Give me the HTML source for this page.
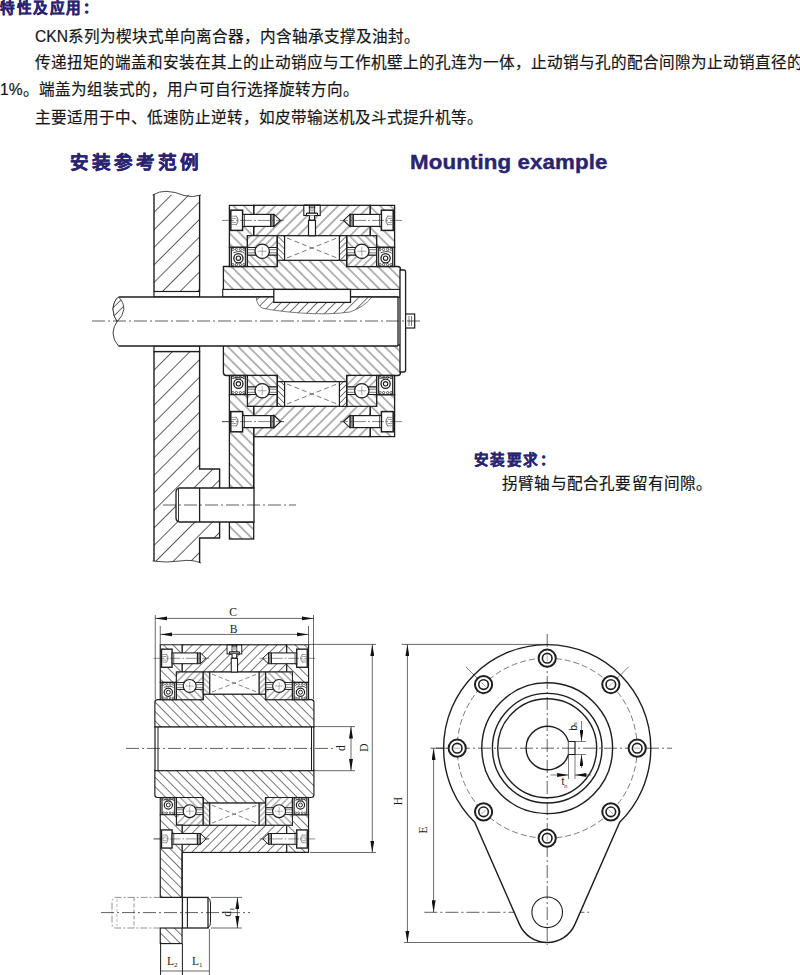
<!DOCTYPE html>
<html lang="zh-CN"><head><meta charset="utf-8"><style>
html,body{margin:0;padding:0;background:#fff;}
body{width:800px;height:975px;position:relative;overflow:hidden;font-family:"Liberation Sans",sans-serif;}
.t{position:absolute;white-space:nowrap;font-size:15.6px;color:#161616;line-height:1;-webkit-text-stroke:0.2px #161616;}
.h{position:absolute;white-space:nowrap;font-weight:bold;color:#2a2470;line-height:1;-webkit-text-stroke:0.5px #2a2470;}
</style></head><body>
<svg width="800" height="975" viewBox="0 0 800 975" style="position:absolute;left:0;top:0"><defs><pattern id="hA" patternUnits="userSpaceOnUse" width="7.4" height="7.4" patternTransform="rotate(45)"><rect width="7.4" height="7.4" fill="#fff"/><line x1="3.7" y1="0" x2="3.7" y2="7.4" stroke="#383838" stroke-width="0.75"/></pattern><pattern id="hB" patternUnits="userSpaceOnUse" width="7.4" height="7.4" patternTransform="rotate(-45)"><rect width="7.4" height="7.4" fill="#fff"/><line x1="3.7" y1="0" x2="3.7" y2="7.4" stroke="#383838" stroke-width="0.75"/></pattern><pattern id="hA2" patternUnits="userSpaceOnUse" width="5.6" height="5.6" patternTransform="rotate(45)"><rect width="5.6" height="5.6" fill="#fff"/><line x1="2.8" y1="0" x2="2.8" y2="5.6" stroke="#383838" stroke-width="0.7"/></pattern><pattern id="hB2" patternUnits="userSpaceOnUse" width="5.6" height="5.6" patternTransform="rotate(-45)"><rect width="5.6" height="5.6" fill="#fff"/><line x1="2.8" y1="0" x2="2.8" y2="5.6" stroke="#383838" stroke-width="0.7"/></pattern><pattern id="hA3" patternUnits="userSpaceOnUse" width="4.2" height="4.2" patternTransform="rotate(45)"><rect width="4.2" height="4.2" fill="#fff"/><line x1="2.1" y1="0" x2="2.1" y2="4.2" stroke="#383838" stroke-width="0.65"/></pattern><pattern id="hB3" patternUnits="userSpaceOnUse" width="4.2" height="4.2" patternTransform="rotate(-45)"><rect width="4.2" height="4.2" fill="#fff"/><line x1="2.1" y1="0" x2="2.1" y2="4.2" stroke="#383838" stroke-width="0.65"/></pattern><pattern id="hW" patternUnits="userSpaceOnUse" width="12.4" height="12.4" patternTransform="rotate(45) translate(4.8,0)"><rect width="12.4" height="12.4" fill="#fff"/><line x1="6.2" y1="0" x2="6.2" y2="12.4" stroke="#383838" stroke-width="0.8"/></pattern><pattern id="hK" patternUnits="userSpaceOnUse" width="6.4" height="6.4" patternTransform="rotate(45)"><rect width="6.4" height="6.4" fill="#fff"/><line x1="3.2" y1="0" x2="3.2" y2="6.4" stroke="#383838" stroke-width="0.7"/></pattern><marker id="ar" viewBox="0 0 12 4" refX="12" refY="2" markerWidth="12" markerHeight="4.2" markerUnits="userSpaceOnUse" orient="auto"><path d="M0,0 L12,2 L0,4 z" fill="#111"/></marker><marker id="ars" viewBox="0 0 12 4" refX="12" refY="2" markerWidth="12" markerHeight="3.8" markerUnits="userSpaceOnUse" orient="auto"><path d="M0,0 L12,2 L0,4 z" fill="#111"/></marker></defs><path d="M154,291.5 L154,194.4 L199.6,195.3 L199.6,291.5 Z" fill="url(#hW)" stroke="#1e1e1e" stroke-width="0" /><path d="M154,291.5 L154,194.4 M199.6,195.3 L199.6,291.5" fill="none" stroke="#1e1e1e" stroke-width="1.4" /><path d="M152.5,195 Q160,191 166,191.3 Q175,191.5 184,195.5 Q192,198 201,195" fill="none" stroke="#1e1e1e" stroke-width="0.8" /><path d="M154,351.5 L199.6,351.5 L199.6,469 L219.6,469 L219.6,538 L199.6,538 L199.6,563 Q192,560 180,561 Q166,563 154,561 Z" fill="url(#hW)" stroke="#1e1e1e" stroke-width="0" /><path d="M154,561 L154,351.5 L199.6,351.5 L199.6,469 L219.6,469 L219.6,538 L199.6,538 L199.6,563" fill="none" stroke="#1e1e1e" stroke-width="1.4" /><path d="M152.5,561 Q166,563 180,561 Q192,559 201,563" fill="none" stroke="#1e1e1e" stroke-width="0.8" /><rect x="154.00" y="291.50" width="45.60" height="5.50" fill="#fff" stroke="#1e1e1e" stroke-width="1.2" /><rect x="154.00" y="346.00" width="45.60" height="5.50" fill="#fff" stroke="#1e1e1e" stroke-width="1.2" /><g transform="translate(312,321)"><rect x="-58.30" y="-115.70" width="116.60" height="30.40" fill="url(#hA)" stroke="#1e1e1e" stroke-width="1.3" /><polygon points="-82.60,-115.70 -58.30,-115.70 -58.30,-85.30 -64.60,-85.30 -64.60,-73.70 -82.60,-73.70" fill="url(#hB)" stroke="#1e1e1e" stroke-width="1.3" /><polygon points="82.60,-115.70 58.30,-115.70 58.30,-85.30 64.60,-85.30 64.60,-73.70 82.60,-73.70" fill="url(#hB)" stroke="#1e1e1e" stroke-width="1.3" /><path d="M-85.6,-54.5 L-34.6,-54.5 L-34.6,-60.7 L34.6,-60.7 L34.6,-54.5 L85.6,-54.5 Q88.6,-54.5 88.6,-51.5 L88.6,-24 L-88.6,-24 L-88.6,-54.5 Z" fill="url(#hB)" stroke="#1e1e1e" stroke-width="1.3" /><rect x="-64.60" y="-85.30" width="29.60" height="11.80" fill="url(#hA2)" stroke="#1e1e1e" stroke-width="1.1" /><rect x="-64.60" y="-66.00" width="29.60" height="11.50" fill="url(#hB2)" stroke="#1e1e1e" stroke-width="1.1" /><rect x="-64.60" y="-73.50" width="29.60" height="7.50" fill="#fff" stroke="#1e1e1e" stroke-width="1.0" /><line x1="-64.60" y1="-71.30" x2="-35.00" y2="-71.30" stroke="#1e1e1e" stroke-width="0.6" /><line x1="-64.60" y1="-68.20" x2="-35.00" y2="-68.20" stroke="#1e1e1e" stroke-width="0.6" /><circle cx="-49.80" cy="-69.75" r="7.20" fill="#fff" stroke="#1e1e1e" stroke-width="1.3" /><line x1="-54.30" y1="-69.75" x2="-45.30" y2="-69.75" stroke="#555" stroke-width="0.5" /><line x1="-49.80" y1="-74.25" x2="-49.80" y2="-65.25" stroke="#555" stroke-width="0.5" /><rect x="-34.60" y="-85.30" width="7.20" height="24.60" fill="url(#hB3)" stroke="#1e1e1e" stroke-width="1.1" /><rect x="-82.60" y="-73.70" width="18.00" height="19.20" fill="#fff" stroke="#1e1e1e" stroke-width="1.3" /><rect x="-81.40" y="-73.70" width="1.40" height="19.20" fill="#333" stroke="#1e1e1e" stroke-width="0" /><rect x="-67.20" y="-73.70" width="1.40" height="19.20" fill="#333" stroke="#1e1e1e" stroke-width="0" /><circle cx="-73.60" cy="-62.80" r="4.60" fill="none" stroke="#1e1e1e" stroke-width="1.3" /><circle cx="-73.60" cy="-62.80" r="2.20" fill="none" stroke="#1e1e1e" stroke-width="1.1" /><path d="M-78.6,-68.3 Q-70.6,-70.8 -67.6,-67.8" fill="none" stroke="#1e1e1e" stroke-width="0.8" /><circle cx="-79.10" cy="-71.60" r="1.10" fill="none" stroke="#1e1e1e" stroke-width="0.7" /><circle cx="-79.10" cy="-56.40" r="1.10" fill="none" stroke="#1e1e1e" stroke-width="0.7" /><circle cx="-75.60" cy="-71.60" r="1.10" fill="none" stroke="#1e1e1e" stroke-width="0.7" /><circle cx="-75.60" cy="-56.40" r="1.10" fill="none" stroke="#1e1e1e" stroke-width="0.7" /><circle cx="-71.60" cy="-71.60" r="1.10" fill="none" stroke="#1e1e1e" stroke-width="0.7" /><circle cx="-71.60" cy="-56.40" r="1.10" fill="none" stroke="#1e1e1e" stroke-width="0.7" /><circle cx="-68.10" cy="-71.60" r="1.10" fill="none" stroke="#1e1e1e" stroke-width="0.7" /><circle cx="-68.10" cy="-56.40" r="1.10" fill="none" stroke="#1e1e1e" stroke-width="0.7" /><rect x="-81.20" y="-110.80" width="11.80" height="20.20" fill="#fff" stroke="#1e1e1e" stroke-width="1.5" /><rect x="-69.40" y="-106.60" width="28.20" height="12.00" fill="#fff" stroke="#1e1e1e" stroke-width="1.2" /><line x1="-67.60" y1="-106.00" x2="-67.60" y2="-95.20" stroke="#1e1e1e" stroke-width="0.8" /><rect x="-41.20" y="-106.60" width="3.30" height="12.00" fill="#999" stroke="#1e1e1e" stroke-width="1.1" /><polygon points="-37.90,-106.60 -31.50,-100.60 -37.90,-94.60" fill="#fff" stroke="#1e1e1e" stroke-width="1.1" /><path d="M-76.00,-105.40 Q-71.80,-100.60 -76.00,-95.80" fill="none" stroke="#444" stroke-width="0.7" /><line x1="-80.40" y1="-104.80" x2="-75.50" y2="-104.80" stroke="#555" stroke-width="0.6" /><line x1="-80.40" y1="-102.60" x2="-75.50" y2="-102.60" stroke="#555" stroke-width="0.6" /><line x1="-80.40" y1="-98.60" x2="-75.50" y2="-98.60" stroke="#555" stroke-width="0.6" /><line x1="-80.40" y1="-96.40" x2="-75.50" y2="-96.40" stroke="#555" stroke-width="0.6" /><line x1="-90.00" y1="-100.60" x2="-28.00" y2="-100.60" stroke="#1e1e1e" stroke-width="0.55" stroke="#555" stroke-dasharray="12 2 2 2"/><rect x="35.00" y="-85.30" width="29.60" height="11.80" fill="url(#hB2)" stroke="#1e1e1e" stroke-width="1.1" /><rect x="35.00" y="-66.00" width="29.60" height="11.50" fill="url(#hA2)" stroke="#1e1e1e" stroke-width="1.1" /><rect x="35.00" y="-73.50" width="29.60" height="7.50" fill="#fff" stroke="#1e1e1e" stroke-width="1.0" /><line x1="35.00" y1="-71.30" x2="64.60" y2="-71.30" stroke="#1e1e1e" stroke-width="0.6" /><line x1="35.00" y1="-68.20" x2="64.60" y2="-68.20" stroke="#1e1e1e" stroke-width="0.6" /><circle cx="49.80" cy="-69.75" r="7.20" fill="#fff" stroke="#1e1e1e" stroke-width="1.3" /><line x1="45.30" y1="-69.75" x2="54.30" y2="-69.75" stroke="#555" stroke-width="0.5" /><line x1="49.80" y1="-74.25" x2="49.80" y2="-65.25" stroke="#555" stroke-width="0.5" /><rect x="27.40" y="-85.30" width="7.20" height="24.60" fill="url(#hA3)" stroke="#1e1e1e" stroke-width="1.1" /><rect x="64.60" y="-73.70" width="18.00" height="19.20" fill="#fff" stroke="#1e1e1e" stroke-width="1.3" /><rect x="65.80" y="-73.70" width="1.40" height="19.20" fill="#333" stroke="#1e1e1e" stroke-width="0" /><rect x="80.00" y="-73.70" width="1.40" height="19.20" fill="#333" stroke="#1e1e1e" stroke-width="0" /><circle cx="73.60" cy="-62.80" r="4.60" fill="none" stroke="#1e1e1e" stroke-width="1.3" /><circle cx="73.60" cy="-62.80" r="2.20" fill="none" stroke="#1e1e1e" stroke-width="1.1" /><path d="M68.6,-68.3 Q76.6,-70.8 79.6,-67.8" fill="none" stroke="#1e1e1e" stroke-width="0.8" /><circle cx="68.10" cy="-71.60" r="1.10" fill="none" stroke="#1e1e1e" stroke-width="0.7" /><circle cx="68.10" cy="-56.40" r="1.10" fill="none" stroke="#1e1e1e" stroke-width="0.7" /><circle cx="71.60" cy="-71.60" r="1.10" fill="none" stroke="#1e1e1e" stroke-width="0.7" /><circle cx="71.60" cy="-56.40" r="1.10" fill="none" stroke="#1e1e1e" stroke-width="0.7" /><circle cx="75.60" cy="-71.60" r="1.10" fill="none" stroke="#1e1e1e" stroke-width="0.7" /><circle cx="75.60" cy="-56.40" r="1.10" fill="none" stroke="#1e1e1e" stroke-width="0.7" /><circle cx="79.10" cy="-71.60" r="1.10" fill="none" stroke="#1e1e1e" stroke-width="0.7" /><circle cx="79.10" cy="-56.40" r="1.10" fill="none" stroke="#1e1e1e" stroke-width="0.7" /><rect x="69.40" y="-110.80" width="11.80" height="20.20" fill="#fff" stroke="#1e1e1e" stroke-width="1.5" /><rect x="41.20" y="-106.60" width="28.20" height="12.00" fill="#fff" stroke="#1e1e1e" stroke-width="1.2" /><line x1="67.60" y1="-106.00" x2="67.60" y2="-95.20" stroke="#1e1e1e" stroke-width="0.8" /><rect x="37.90" y="-106.60" width="3.30" height="12.00" fill="#999" stroke="#1e1e1e" stroke-width="1.1" /><polygon points="37.90,-106.60 31.50,-100.60 37.90,-94.60" fill="#fff" stroke="#1e1e1e" stroke-width="1.1" /><path d="M76.00,-105.40 Q71.80,-100.60 76.00,-95.80" fill="none" stroke="#444" stroke-width="0.7" /><line x1="80.40" y1="-104.80" x2="75.50" y2="-104.80" stroke="#555" stroke-width="0.6" /><line x1="80.40" y1="-102.60" x2="75.50" y2="-102.60" stroke="#555" stroke-width="0.6" /><line x1="80.40" y1="-98.60" x2="75.50" y2="-98.60" stroke="#555" stroke-width="0.6" /><line x1="80.40" y1="-96.40" x2="75.50" y2="-96.40" stroke="#555" stroke-width="0.6" /><line x1="90.00" y1="-100.60" x2="28.00" y2="-100.60" stroke="#1e1e1e" stroke-width="0.55" stroke="#555" stroke-dasharray="12 2 2 2"/><rect x="-27.40" y="-85.30" width="54.80" height="24.60" fill="#fff" stroke="#1e1e1e" stroke-width="1.2" /><line x1="-25.00" y1="-83.00" x2="25.00" y2="-63.00" stroke="#1e1e1e" stroke-width="0.6" stroke="#555" stroke-dasharray="5 3"/><line x1="-25.00" y1="-63.00" x2="25.00" y2="-83.00" stroke="#1e1e1e" stroke-width="0.6" stroke="#555" stroke-dasharray="5 3"/><rect x="-8.20" y="-115.70" width="16.40" height="10.20" fill="#fff" stroke="#1e1e1e" stroke-width="1.1" /><rect x="-3.50" y="-100.60" width="7.00" height="15.30" fill="#fff" stroke="#1e1e1e" stroke-width="1.2" /><rect x="-2.60" y="-115.20" width="5.20" height="7.60" fill="#fff" stroke="#1e1e1e" stroke-width="1.1" /><rect x="-2.20" y="-113.00" width="4.40" height="3.50" fill="#bbb" stroke="#1e1e1e" stroke-width="0" /><line x1="-2.60" y1="-113.60" x2="2.60" y2="-113.60" stroke="#1e1e1e" stroke-width="0.7" /><path d="M-5.6,-105.5 L-5.6,-107 Q-5.6,-107.8 -4.5,-107.8 L4.5,-107.8 Q5.6,-107.8 5.6,-107 L5.6,-105.5 Z" fill="#fff" stroke="#1e1e1e" stroke-width="1.2" /><path d="M-2.6,-105.5 L-2.6,-101.5 Q0,-99.8 2.6,-101.5 L2.6,-105.5" fill="#fff" stroke="#1e1e1e" stroke-width="1.2" /><line x1="-8.20" y1="-115.70" x2="8.20" y2="-115.70" stroke="#1e1e1e" stroke-width="1.3" /><rect x="-58.30" y="85.30" width="116.60" height="30.40" fill="url(#hA)" stroke="#1e1e1e" stroke-width="1.3" /><polygon points="82.60,115.70 58.30,115.70 58.30,85.30 64.60,85.30 64.60,73.70 82.60,73.70" fill="url(#hB)" stroke="#1e1e1e" stroke-width="1.3" /><path d="M-85.6,54.5 L-34.6,54.5 L-34.6,60.7 L34.6,60.7 L34.6,54.5 L85.6,54.5 Q88.6,54.5 88.6,51.5 L88.6,24 L-88.6,24 L-88.6,51.5 Q-88.6,54.5 -85.6,54.5 Z" fill="url(#hB)" stroke="#1e1e1e" stroke-width="1.3" /><rect x="-64.60" y="73.50" width="29.60" height="11.80" fill="url(#hA2)" stroke="#1e1e1e" stroke-width="1.1" /><rect x="-64.60" y="54.50" width="29.60" height="11.50" fill="url(#hB2)" stroke="#1e1e1e" stroke-width="1.1" /><rect x="-64.60" y="66.00" width="29.60" height="7.50" fill="#fff" stroke="#1e1e1e" stroke-width="1.0" /><line x1="-64.60" y1="71.30" x2="-35.00" y2="71.30" stroke="#1e1e1e" stroke-width="0.6" /><line x1="-64.60" y1="68.20" x2="-35.00" y2="68.20" stroke="#1e1e1e" stroke-width="0.6" /><circle cx="-49.80" cy="69.75" r="7.20" fill="#fff" stroke="#1e1e1e" stroke-width="1.3" /><line x1="-54.30" y1="69.75" x2="-45.30" y2="69.75" stroke="#555" stroke-width="0.5" /><line x1="-49.80" y1="65.25" x2="-49.80" y2="74.25" stroke="#555" stroke-width="0.5" /><rect x="-34.60" y="60.70" width="7.20" height="24.60" fill="url(#hB3)" stroke="#1e1e1e" stroke-width="1.1" /><rect x="-82.60" y="54.50" width="18.00" height="19.20" fill="#fff" stroke="#1e1e1e" stroke-width="1.3" /><rect x="-81.40" y="54.50" width="1.40" height="19.20" fill="#333" stroke="#1e1e1e" stroke-width="0" /><rect x="-67.20" y="54.50" width="1.40" height="19.20" fill="#333" stroke="#1e1e1e" stroke-width="0" /><circle cx="-73.60" cy="62.80" r="4.60" fill="none" stroke="#1e1e1e" stroke-width="1.3" /><circle cx="-73.60" cy="62.80" r="2.20" fill="none" stroke="#1e1e1e" stroke-width="1.1" /><path d="M-78.6,57.3 Q-70.6,54.8 -67.6,57.8" fill="none" stroke="#1e1e1e" stroke-width="0.8" /><circle cx="-79.10" cy="71.60" r="1.10" fill="none" stroke="#1e1e1e" stroke-width="0.7" /><circle cx="-79.10" cy="56.40" r="1.10" fill="none" stroke="#1e1e1e" stroke-width="0.7" /><circle cx="-75.60" cy="71.60" r="1.10" fill="none" stroke="#1e1e1e" stroke-width="0.7" /><circle cx="-75.60" cy="56.40" r="1.10" fill="none" stroke="#1e1e1e" stroke-width="0.7" /><circle cx="-71.60" cy="71.60" r="1.10" fill="none" stroke="#1e1e1e" stroke-width="0.7" /><circle cx="-71.60" cy="56.40" r="1.10" fill="none" stroke="#1e1e1e" stroke-width="0.7" /><circle cx="-68.10" cy="71.60" r="1.10" fill="none" stroke="#1e1e1e" stroke-width="0.7" /><circle cx="-68.10" cy="56.40" r="1.10" fill="none" stroke="#1e1e1e" stroke-width="0.7" /><rect x="-81.20" y="90.60" width="11.80" height="20.20" fill="#fff" stroke="#1e1e1e" stroke-width="1.5" /><rect x="-69.40" y="94.60" width="28.20" height="12.00" fill="#fff" stroke="#1e1e1e" stroke-width="1.2" /><line x1="-67.60" y1="106.00" x2="-67.60" y2="95.20" stroke="#1e1e1e" stroke-width="0.8" /><rect x="-41.20" y="94.60" width="3.30" height="12.00" fill="#999" stroke="#1e1e1e" stroke-width="1.1" /><polygon points="-37.90,106.60 -31.50,100.60 -37.90,94.60" fill="#fff" stroke="#1e1e1e" stroke-width="1.1" /><path d="M-76.00,95.80 Q-71.80,100.60 -76.00,105.40" fill="none" stroke="#444" stroke-width="0.7" /><line x1="-80.40" y1="96.40" x2="-75.50" y2="96.40" stroke="#555" stroke-width="0.6" /><line x1="-80.40" y1="98.60" x2="-75.50" y2="98.60" stroke="#555" stroke-width="0.6" /><line x1="-80.40" y1="102.60" x2="-75.50" y2="102.60" stroke="#555" stroke-width="0.6" /><line x1="-80.40" y1="104.80" x2="-75.50" y2="104.80" stroke="#555" stroke-width="0.6" /><line x1="-90.00" y1="100.60" x2="-28.00" y2="100.60" stroke="#1e1e1e" stroke-width="0.55" stroke="#555" stroke-dasharray="12 2 2 2"/><rect x="35.00" y="73.50" width="29.60" height="11.80" fill="url(#hB2)" stroke="#1e1e1e" stroke-width="1.1" /><rect x="35.00" y="54.50" width="29.60" height="11.50" fill="url(#hA2)" stroke="#1e1e1e" stroke-width="1.1" /><rect x="35.00" y="66.00" width="29.60" height="7.50" fill="#fff" stroke="#1e1e1e" stroke-width="1.0" /><line x1="35.00" y1="71.30" x2="64.60" y2="71.30" stroke="#1e1e1e" stroke-width="0.6" /><line x1="35.00" y1="68.20" x2="64.60" y2="68.20" stroke="#1e1e1e" stroke-width="0.6" /><circle cx="49.80" cy="69.75" r="7.20" fill="#fff" stroke="#1e1e1e" stroke-width="1.3" /><line x1="45.30" y1="69.75" x2="54.30" y2="69.75" stroke="#555" stroke-width="0.5" /><line x1="49.80" y1="65.25" x2="49.80" y2="74.25" stroke="#555" stroke-width="0.5" /><rect x="27.40" y="60.70" width="7.20" height="24.60" fill="url(#hA3)" stroke="#1e1e1e" stroke-width="1.1" /><rect x="64.60" y="54.50" width="18.00" height="19.20" fill="#fff" stroke="#1e1e1e" stroke-width="1.3" /><rect x="65.80" y="54.50" width="1.40" height="19.20" fill="#333" stroke="#1e1e1e" stroke-width="0" /><rect x="80.00" y="54.50" width="1.40" height="19.20" fill="#333" stroke="#1e1e1e" stroke-width="0" /><circle cx="73.60" cy="62.80" r="4.60" fill="none" stroke="#1e1e1e" stroke-width="1.3" /><circle cx="73.60" cy="62.80" r="2.20" fill="none" stroke="#1e1e1e" stroke-width="1.1" /><path d="M68.6,57.3 Q76.6,54.8 79.6,57.8" fill="none" stroke="#1e1e1e" stroke-width="0.8" /><circle cx="68.10" cy="71.60" r="1.10" fill="none" stroke="#1e1e1e" stroke-width="0.7" /><circle cx="68.10" cy="56.40" r="1.10" fill="none" stroke="#1e1e1e" stroke-width="0.7" /><circle cx="71.60" cy="71.60" r="1.10" fill="none" stroke="#1e1e1e" stroke-width="0.7" /><circle cx="71.60" cy="56.40" r="1.10" fill="none" stroke="#1e1e1e" stroke-width="0.7" /><circle cx="75.60" cy="71.60" r="1.10" fill="none" stroke="#1e1e1e" stroke-width="0.7" /><circle cx="75.60" cy="56.40" r="1.10" fill="none" stroke="#1e1e1e" stroke-width="0.7" /><circle cx="79.10" cy="71.60" r="1.10" fill="none" stroke="#1e1e1e" stroke-width="0.7" /><circle cx="79.10" cy="56.40" r="1.10" fill="none" stroke="#1e1e1e" stroke-width="0.7" /><rect x="69.40" y="90.60" width="11.80" height="20.20" fill="#fff" stroke="#1e1e1e" stroke-width="1.5" /><rect x="41.20" y="94.60" width="28.20" height="12.00" fill="#fff" stroke="#1e1e1e" stroke-width="1.2" /><line x1="67.60" y1="106.00" x2="67.60" y2="95.20" stroke="#1e1e1e" stroke-width="0.8" /><rect x="37.90" y="94.60" width="3.30" height="12.00" fill="#999" stroke="#1e1e1e" stroke-width="1.1" /><polygon points="37.90,106.60 31.50,100.60 37.90,94.60" fill="#fff" stroke="#1e1e1e" stroke-width="1.1" /><path d="M76.00,95.80 Q71.80,100.60 76.00,105.40" fill="none" stroke="#444" stroke-width="0.7" /><line x1="80.40" y1="96.40" x2="75.50" y2="96.40" stroke="#555" stroke-width="0.6" /><line x1="80.40" y1="98.60" x2="75.50" y2="98.60" stroke="#555" stroke-width="0.6" /><line x1="80.40" y1="102.60" x2="75.50" y2="102.60" stroke="#555" stroke-width="0.6" /><line x1="80.40" y1="104.80" x2="75.50" y2="104.80" stroke="#555" stroke-width="0.6" /><line x1="90.00" y1="100.60" x2="28.00" y2="100.60" stroke="#1e1e1e" stroke-width="0.55" stroke="#555" stroke-dasharray="12 2 2 2"/><rect x="-27.40" y="60.70" width="54.80" height="24.60" fill="#fff" stroke="#1e1e1e" stroke-width="1.2" /><line x1="-25.00" y1="83.00" x2="25.00" y2="63.00" stroke="#1e1e1e" stroke-width="0.6" stroke="#555" stroke-dasharray="5 3"/><line x1="-25.00" y1="63.00" x2="25.00" y2="83.00" stroke="#1e1e1e" stroke-width="0.6" stroke="#555" stroke-dasharray="5 3"/><polygon points="-82.60,73.70 -64.60,73.70 -64.60,85.30 -58.30,85.30 -58.30,167.00 -82.60,167.00" fill="url(#hB)" stroke="#1e1e1e" stroke-width="1.3" /><rect x="-82.60" y="201.00" width="24.30" height="17.00" fill="url(#hB)" stroke="#1e1e1e" stroke-width="1.3" /><rect x="-81.20" y="90.60" width="11.80" height="20.20" fill="#fff" stroke="#1e1e1e" stroke-width="1.5" /><rect x="-69.40" y="94.60" width="28.20" height="12.00" fill="#fff" stroke="#1e1e1e" stroke-width="1.2" /><line x1="-67.60" y1="106.00" x2="-67.60" y2="95.20" stroke="#1e1e1e" stroke-width="0.8" /><rect x="-41.20" y="94.60" width="3.30" height="12.00" fill="#999" stroke="#1e1e1e" stroke-width="1.1" /><polygon points="-37.90,106.60 -31.50,100.60 -37.90,94.60" fill="#fff" stroke="#1e1e1e" stroke-width="1.1" /><path d="M-76.00,95.80 Q-71.80,100.60 -76.00,105.40" fill="none" stroke="#444" stroke-width="0.7" /><line x1="-80.40" y1="96.40" x2="-75.50" y2="96.40" stroke="#555" stroke-width="0.6" /><line x1="-80.40" y1="98.60" x2="-75.50" y2="98.60" stroke="#555" stroke-width="0.6" /><line x1="-80.40" y1="102.60" x2="-75.50" y2="102.60" stroke="#555" stroke-width="0.6" /><line x1="-80.40" y1="104.80" x2="-75.50" y2="104.80" stroke="#555" stroke-width="0.6" /><line x1="-90.00" y1="100.60" x2="-28.00" y2="100.60" stroke="#1e1e1e" stroke-width="0.55" stroke="#555" stroke-dasharray="12 2 2 2"/><line x1="-58.30" y1="116.00" x2="-58.30" y2="167.00" stroke="#1e1e1e" stroke-width="1.3" /></g><rect x="222.75" y="289.40" width="177.25" height="7.60" fill="#fff" stroke="#1e1e1e" stroke-width="1.1" /><path d="M118.5,297 L398,297 L398,346 L118.5,346 Q113,340 113,333 Q113.5,326 117.2,321.5 Q113,316 113,309 Q113.5,301 118.5,297 Z" fill="#fff" stroke="#1e1e1e" stroke-width="0" /><path d="M118.5,297 L398,297 M398,346 L118.5,346" fill="none" stroke="#1e1e1e" stroke-width="1.4" /><path d="M118.5,346 Q113,340 113,333 Q113.5,326 117.2,321.5 Q113,316 113,309 Q113.5,301 118.5,297" fill="none" stroke="#1e1e1e" stroke-width="0.85" /><path d="M118.5,297 Q124,302 123.8,309.5 Q123,316 117.2,321.5 Q113,316 113,309 Q113.5,301 118.5,297 Z" fill="url(#hK)" stroke="#1e1e1e" stroke-width="0.8" /><line x1="398.00" y1="297.00" x2="398.00" y2="346.00" stroke="#1e1e1e" stroke-width="1.3" /><path d="M256.5,297 Q256,304 262,308 Q275,311 300,313 Q330,315 350,312 Q364,307 372,297 Z" fill="url(#hK)" stroke="#444" stroke-width="0.7" /><line x1="256.50" y1="297.00" x2="372.00" y2="297.00" stroke="#1e1e1e" stroke-width="1.2" /><rect x="273.80" y="289.40" width="76.70" height="13.00" fill="#fff" stroke="#1e1e1e" stroke-width="1.3" /><path d="M400,270 L403.6,270 Q405.6,270 405.6,272 L405.6,370 Q405.6,372 403.6,372 L400,372 Z" fill="#fff" stroke="#1e1e1e" stroke-width="1.3" /><rect x="405.60" y="314.00" width="9.10" height="14.00" fill="#fff" stroke="#1e1e1e" stroke-width="1.2" /><line x1="409.00" y1="316.00" x2="409.00" y2="326.00" stroke="#1e1e1e" stroke-width="0.6" /><line x1="411.50" y1="316.00" x2="411.50" y2="326.00" stroke="#1e1e1e" stroke-width="0.6" /><line x1="92.00" y1="321.00" x2="420.00" y2="321.00" stroke="#1e1e1e" stroke-width="0.7" stroke="#444" stroke-dasharray="13 3 2 3"/><path d="M179,488 L254,488 L254,522 L179,522 Q176,521 176,518 L176,492 Q176,489 179,488 Z" fill="#fff" stroke="#1e1e1e" stroke-width="1.3" /><line x1="178.50" y1="489.00" x2="178.50" y2="521.00" stroke="#1e1e1e" stroke-width="0.9" /><line x1="199.60" y1="488.00" x2="199.60" y2="522.00" stroke="#1e1e1e" stroke-width="1.3" /><line x1="163.00" y1="505.00" x2="296.00" y2="505.00" stroke="#1e1e1e" stroke-width="0.7" stroke="#444" stroke-dasharray="13 3 2 3"/><g transform="translate(234.4,748.6) scale(0.8976)"><rect x="-58.30" y="-115.70" width="116.60" height="30.40" fill="url(#hA)" stroke="#1e1e1e" stroke-width="1.3" /><polygon points="-82.60,-115.70 -58.30,-115.70 -58.30,-85.30 -64.60,-85.30 -64.60,-73.70 -82.60,-73.70" fill="url(#hB)" stroke="#1e1e1e" stroke-width="1.3" /><polygon points="82.60,-115.70 58.30,-115.70 58.30,-85.30 64.60,-85.30 64.60,-73.70 82.60,-73.70" fill="url(#hB)" stroke="#1e1e1e" stroke-width="1.3" /><path d="M-85.6,-54.5 L-34.6,-54.5 L-34.6,-60.7 L34.6,-60.7 L34.6,-54.5 L85.6,-54.5 Q88.6,-54.5 88.6,-51.5 L88.6,-24 L-88.6,-24 L-88.6,-51.5 Q-88.6,-54.5 -85.6,-54.5 Z" fill="url(#hB)" stroke="#1e1e1e" stroke-width="1.3" /><rect x="-64.60" y="-85.30" width="29.60" height="11.80" fill="url(#hA2)" stroke="#1e1e1e" stroke-width="1.1" /><rect x="-64.60" y="-66.00" width="29.60" height="11.50" fill="url(#hB2)" stroke="#1e1e1e" stroke-width="1.1" /><rect x="-64.60" y="-73.50" width="29.60" height="7.50" fill="#fff" stroke="#1e1e1e" stroke-width="1.0" /><line x1="-64.60" y1="-71.30" x2="-35.00" y2="-71.30" stroke="#1e1e1e" stroke-width="0.6" /><line x1="-64.60" y1="-68.20" x2="-35.00" y2="-68.20" stroke="#1e1e1e" stroke-width="0.6" /><circle cx="-49.80" cy="-69.75" r="7.20" fill="#fff" stroke="#1e1e1e" stroke-width="1.3" /><line x1="-54.30" y1="-69.75" x2="-45.30" y2="-69.75" stroke="#555" stroke-width="0.5" /><line x1="-49.80" y1="-74.25" x2="-49.80" y2="-65.25" stroke="#555" stroke-width="0.5" /><rect x="-34.60" y="-85.30" width="7.20" height="24.60" fill="url(#hB3)" stroke="#1e1e1e" stroke-width="1.1" /><rect x="-82.60" y="-73.70" width="18.00" height="19.20" fill="#fff" stroke="#1e1e1e" stroke-width="1.3" /><rect x="-81.40" y="-73.70" width="1.40" height="19.20" fill="#333" stroke="#1e1e1e" stroke-width="0" /><rect x="-67.20" y="-73.70" width="1.40" height="19.20" fill="#333" stroke="#1e1e1e" stroke-width="0" /><circle cx="-73.60" cy="-62.80" r="4.60" fill="none" stroke="#1e1e1e" stroke-width="1.3" /><circle cx="-73.60" cy="-62.80" r="2.20" fill="none" stroke="#1e1e1e" stroke-width="1.1" /><path d="M-78.6,-68.3 Q-70.6,-70.8 -67.6,-67.8" fill="none" stroke="#1e1e1e" stroke-width="0.8" /><circle cx="-79.10" cy="-71.60" r="1.10" fill="none" stroke="#1e1e1e" stroke-width="0.7" /><circle cx="-79.10" cy="-56.40" r="1.10" fill="none" stroke="#1e1e1e" stroke-width="0.7" /><circle cx="-75.60" cy="-71.60" r="1.10" fill="none" stroke="#1e1e1e" stroke-width="0.7" /><circle cx="-75.60" cy="-56.40" r="1.10" fill="none" stroke="#1e1e1e" stroke-width="0.7" /><circle cx="-71.60" cy="-71.60" r="1.10" fill="none" stroke="#1e1e1e" stroke-width="0.7" /><circle cx="-71.60" cy="-56.40" r="1.10" fill="none" stroke="#1e1e1e" stroke-width="0.7" /><circle cx="-68.10" cy="-71.60" r="1.10" fill="none" stroke="#1e1e1e" stroke-width="0.7" /><circle cx="-68.10" cy="-56.40" r="1.10" fill="none" stroke="#1e1e1e" stroke-width="0.7" /><rect x="-81.20" y="-110.80" width="11.80" height="20.20" fill="#fff" stroke="#1e1e1e" stroke-width="1.5" /><rect x="-69.40" y="-106.60" width="28.20" height="12.00" fill="#fff" stroke="#1e1e1e" stroke-width="1.2" /><line x1="-67.60" y1="-106.00" x2="-67.60" y2="-95.20" stroke="#1e1e1e" stroke-width="0.8" /><rect x="-41.20" y="-106.60" width="3.30" height="12.00" fill="#999" stroke="#1e1e1e" stroke-width="1.1" /><polygon points="-37.90,-106.60 -31.50,-100.60 -37.90,-94.60" fill="#fff" stroke="#1e1e1e" stroke-width="1.1" /><path d="M-76.00,-105.40 Q-71.80,-100.60 -76.00,-95.80" fill="none" stroke="#444" stroke-width="0.7" /><line x1="-80.40" y1="-104.80" x2="-75.50" y2="-104.80" stroke="#555" stroke-width="0.6" /><line x1="-80.40" y1="-102.60" x2="-75.50" y2="-102.60" stroke="#555" stroke-width="0.6" /><line x1="-80.40" y1="-98.60" x2="-75.50" y2="-98.60" stroke="#555" stroke-width="0.6" /><line x1="-80.40" y1="-96.40" x2="-75.50" y2="-96.40" stroke="#555" stroke-width="0.6" /><line x1="-90.00" y1="-100.60" x2="-28.00" y2="-100.60" stroke="#1e1e1e" stroke-width="0.55" stroke="#555" stroke-dasharray="12 2 2 2"/><rect x="35.00" y="-85.30" width="29.60" height="11.80" fill="url(#hB2)" stroke="#1e1e1e" stroke-width="1.1" /><rect x="35.00" y="-66.00" width="29.60" height="11.50" fill="url(#hA2)" stroke="#1e1e1e" stroke-width="1.1" /><rect x="35.00" y="-73.50" width="29.60" height="7.50" fill="#fff" stroke="#1e1e1e" stroke-width="1.0" /><line x1="35.00" y1="-71.30" x2="64.60" y2="-71.30" stroke="#1e1e1e" stroke-width="0.6" /><line x1="35.00" y1="-68.20" x2="64.60" y2="-68.20" stroke="#1e1e1e" stroke-width="0.6" /><circle cx="49.80" cy="-69.75" r="7.20" fill="#fff" stroke="#1e1e1e" stroke-width="1.3" /><line x1="45.30" y1="-69.75" x2="54.30" y2="-69.75" stroke="#555" stroke-width="0.5" /><line x1="49.80" y1="-74.25" x2="49.80" y2="-65.25" stroke="#555" stroke-width="0.5" /><rect x="27.40" y="-85.30" width="7.20" height="24.60" fill="url(#hA3)" stroke="#1e1e1e" stroke-width="1.1" /><rect x="64.60" y="-73.70" width="18.00" height="19.20" fill="#fff" stroke="#1e1e1e" stroke-width="1.3" /><rect x="65.80" y="-73.70" width="1.40" height="19.20" fill="#333" stroke="#1e1e1e" stroke-width="0" /><rect x="80.00" y="-73.70" width="1.40" height="19.20" fill="#333" stroke="#1e1e1e" stroke-width="0" /><circle cx="73.60" cy="-62.80" r="4.60" fill="none" stroke="#1e1e1e" stroke-width="1.3" /><circle cx="73.60" cy="-62.80" r="2.20" fill="none" stroke="#1e1e1e" stroke-width="1.1" /><path d="M68.6,-68.3 Q76.6,-70.8 79.6,-67.8" fill="none" stroke="#1e1e1e" stroke-width="0.8" /><circle cx="68.10" cy="-71.60" r="1.10" fill="none" stroke="#1e1e1e" stroke-width="0.7" /><circle cx="68.10" cy="-56.40" r="1.10" fill="none" stroke="#1e1e1e" stroke-width="0.7" /><circle cx="71.60" cy="-71.60" r="1.10" fill="none" stroke="#1e1e1e" stroke-width="0.7" /><circle cx="71.60" cy="-56.40" r="1.10" fill="none" stroke="#1e1e1e" stroke-width="0.7" /><circle cx="75.60" cy="-71.60" r="1.10" fill="none" stroke="#1e1e1e" stroke-width="0.7" /><circle cx="75.60" cy="-56.40" r="1.10" fill="none" stroke="#1e1e1e" stroke-width="0.7" /><circle cx="79.10" cy="-71.60" r="1.10" fill="none" stroke="#1e1e1e" stroke-width="0.7" /><circle cx="79.10" cy="-56.40" r="1.10" fill="none" stroke="#1e1e1e" stroke-width="0.7" /><rect x="69.40" y="-110.80" width="11.80" height="20.20" fill="#fff" stroke="#1e1e1e" stroke-width="1.5" /><rect x="41.20" y="-106.60" width="28.20" height="12.00" fill="#fff" stroke="#1e1e1e" stroke-width="1.2" /><line x1="67.60" y1="-106.00" x2="67.60" y2="-95.20" stroke="#1e1e1e" stroke-width="0.8" /><rect x="37.90" y="-106.60" width="3.30" height="12.00" fill="#999" stroke="#1e1e1e" stroke-width="1.1" /><polygon points="37.90,-106.60 31.50,-100.60 37.90,-94.60" fill="#fff" stroke="#1e1e1e" stroke-width="1.1" /><path d="M76.00,-105.40 Q71.80,-100.60 76.00,-95.80" fill="none" stroke="#444" stroke-width="0.7" /><line x1="80.40" y1="-104.80" x2="75.50" y2="-104.80" stroke="#555" stroke-width="0.6" /><line x1="80.40" y1="-102.60" x2="75.50" y2="-102.60" stroke="#555" stroke-width="0.6" /><line x1="80.40" y1="-98.60" x2="75.50" y2="-98.60" stroke="#555" stroke-width="0.6" /><line x1="80.40" y1="-96.40" x2="75.50" y2="-96.40" stroke="#555" stroke-width="0.6" /><line x1="90.00" y1="-100.60" x2="28.00" y2="-100.60" stroke="#1e1e1e" stroke-width="0.55" stroke="#555" stroke-dasharray="12 2 2 2"/><rect x="-27.40" y="-85.30" width="54.80" height="24.60" fill="#fff" stroke="#1e1e1e" stroke-width="1.2" /><line x1="-25.00" y1="-83.00" x2="25.00" y2="-63.00" stroke="#1e1e1e" stroke-width="0.6" stroke="#555" stroke-dasharray="5 3"/><line x1="-25.00" y1="-63.00" x2="25.00" y2="-83.00" stroke="#1e1e1e" stroke-width="0.6" stroke="#555" stroke-dasharray="5 3"/><rect x="-8.20" y="-115.70" width="16.40" height="10.20" fill="#fff" stroke="#1e1e1e" stroke-width="1.1" /><rect x="-3.50" y="-100.60" width="7.00" height="15.30" fill="#fff" stroke="#1e1e1e" stroke-width="1.2" /><rect x="-2.60" y="-115.20" width="5.20" height="7.60" fill="#fff" stroke="#1e1e1e" stroke-width="1.1" /><rect x="-2.20" y="-113.00" width="4.40" height="3.50" fill="#bbb" stroke="#1e1e1e" stroke-width="0" /><line x1="-2.60" y1="-113.60" x2="2.60" y2="-113.60" stroke="#1e1e1e" stroke-width="0.7" /><path d="M-5.6,-105.5 L-5.6,-107 Q-5.6,-107.8 -4.5,-107.8 L4.5,-107.8 Q5.6,-107.8 5.6,-107 L5.6,-105.5 Z" fill="#fff" stroke="#1e1e1e" stroke-width="1.2" /><path d="M-2.6,-105.5 L-2.6,-101.5 Q0,-99.8 2.6,-101.5 L2.6,-105.5" fill="#fff" stroke="#1e1e1e" stroke-width="1.2" /><line x1="-8.20" y1="-115.70" x2="8.20" y2="-115.70" stroke="#1e1e1e" stroke-width="1.3" /><rect x="-58.30" y="85.30" width="116.60" height="30.40" fill="url(#hA)" stroke="#1e1e1e" stroke-width="1.3" /><polygon points="82.60,115.70 58.30,115.70 58.30,85.30 64.60,85.30 64.60,73.70 82.60,73.70" fill="url(#hB)" stroke="#1e1e1e" stroke-width="1.3" /><path d="M-85.6,54.5 L-34.6,54.5 L-34.6,60.7 L34.6,60.7 L34.6,54.5 L85.6,54.5 Q88.6,54.5 88.6,51.5 L88.6,24 L-88.6,24 L-88.6,51.5 Q-88.6,54.5 -85.6,54.5 Z" fill="url(#hB)" stroke="#1e1e1e" stroke-width="1.3" /><rect x="-64.60" y="73.50" width="29.60" height="11.80" fill="url(#hA2)" stroke="#1e1e1e" stroke-width="1.1" /><rect x="-64.60" y="54.50" width="29.60" height="11.50" fill="url(#hB2)" stroke="#1e1e1e" stroke-width="1.1" /><rect x="-64.60" y="66.00" width="29.60" height="7.50" fill="#fff" stroke="#1e1e1e" stroke-width="1.0" /><line x1="-64.60" y1="71.30" x2="-35.00" y2="71.30" stroke="#1e1e1e" stroke-width="0.6" /><line x1="-64.60" y1="68.20" x2="-35.00" y2="68.20" stroke="#1e1e1e" stroke-width="0.6" /><circle cx="-49.80" cy="69.75" r="7.20" fill="#fff" stroke="#1e1e1e" stroke-width="1.3" /><line x1="-54.30" y1="69.75" x2="-45.30" y2="69.75" stroke="#555" stroke-width="0.5" /><line x1="-49.80" y1="65.25" x2="-49.80" y2="74.25" stroke="#555" stroke-width="0.5" /><rect x="-34.60" y="60.70" width="7.20" height="24.60" fill="url(#hB3)" stroke="#1e1e1e" stroke-width="1.1" /><rect x="-82.60" y="54.50" width="18.00" height="19.20" fill="#fff" stroke="#1e1e1e" stroke-width="1.3" /><rect x="-81.40" y="54.50" width="1.40" height="19.20" fill="#333" stroke="#1e1e1e" stroke-width="0" /><rect x="-67.20" y="54.50" width="1.40" height="19.20" fill="#333" stroke="#1e1e1e" stroke-width="0" /><circle cx="-73.60" cy="62.80" r="4.60" fill="none" stroke="#1e1e1e" stroke-width="1.3" /><circle cx="-73.60" cy="62.80" r="2.20" fill="none" stroke="#1e1e1e" stroke-width="1.1" /><path d="M-78.6,57.3 Q-70.6,54.8 -67.6,57.8" fill="none" stroke="#1e1e1e" stroke-width="0.8" /><circle cx="-79.10" cy="71.60" r="1.10" fill="none" stroke="#1e1e1e" stroke-width="0.7" /><circle cx="-79.10" cy="56.40" r="1.10" fill="none" stroke="#1e1e1e" stroke-width="0.7" /><circle cx="-75.60" cy="71.60" r="1.10" fill="none" stroke="#1e1e1e" stroke-width="0.7" /><circle cx="-75.60" cy="56.40" r="1.10" fill="none" stroke="#1e1e1e" stroke-width="0.7" /><circle cx="-71.60" cy="71.60" r="1.10" fill="none" stroke="#1e1e1e" stroke-width="0.7" /><circle cx="-71.60" cy="56.40" r="1.10" fill="none" stroke="#1e1e1e" stroke-width="0.7" /><circle cx="-68.10" cy="71.60" r="1.10" fill="none" stroke="#1e1e1e" stroke-width="0.7" /><circle cx="-68.10" cy="56.40" r="1.10" fill="none" stroke="#1e1e1e" stroke-width="0.7" /><rect x="-81.20" y="90.60" width="11.80" height="20.20" fill="#fff" stroke="#1e1e1e" stroke-width="1.5" /><rect x="-69.40" y="94.60" width="28.20" height="12.00" fill="#fff" stroke="#1e1e1e" stroke-width="1.2" /><line x1="-67.60" y1="106.00" x2="-67.60" y2="95.20" stroke="#1e1e1e" stroke-width="0.8" /><rect x="-41.20" y="94.60" width="3.30" height="12.00" fill="#999" stroke="#1e1e1e" stroke-width="1.1" /><polygon points="-37.90,106.60 -31.50,100.60 -37.90,94.60" fill="#fff" stroke="#1e1e1e" stroke-width="1.1" /><path d="M-76.00,95.80 Q-71.80,100.60 -76.00,105.40" fill="none" stroke="#444" stroke-width="0.7" /><line x1="-80.40" y1="96.40" x2="-75.50" y2="96.40" stroke="#555" stroke-width="0.6" /><line x1="-80.40" y1="98.60" x2="-75.50" y2="98.60" stroke="#555" stroke-width="0.6" /><line x1="-80.40" y1="102.60" x2="-75.50" y2="102.60" stroke="#555" stroke-width="0.6" /><line x1="-80.40" y1="104.80" x2="-75.50" y2="104.80" stroke="#555" stroke-width="0.6" /><line x1="-90.00" y1="100.60" x2="-28.00" y2="100.60" stroke="#1e1e1e" stroke-width="0.55" stroke="#555" stroke-dasharray="12 2 2 2"/><rect x="35.00" y="73.50" width="29.60" height="11.80" fill="url(#hB2)" stroke="#1e1e1e" stroke-width="1.1" /><rect x="35.00" y="54.50" width="29.60" height="11.50" fill="url(#hA2)" stroke="#1e1e1e" stroke-width="1.1" /><rect x="35.00" y="66.00" width="29.60" height="7.50" fill="#fff" stroke="#1e1e1e" stroke-width="1.0" /><line x1="35.00" y1="71.30" x2="64.60" y2="71.30" stroke="#1e1e1e" stroke-width="0.6" /><line x1="35.00" y1="68.20" x2="64.60" y2="68.20" stroke="#1e1e1e" stroke-width="0.6" /><circle cx="49.80" cy="69.75" r="7.20" fill="#fff" stroke="#1e1e1e" stroke-width="1.3" /><line x1="45.30" y1="69.75" x2="54.30" y2="69.75" stroke="#555" stroke-width="0.5" /><line x1="49.80" y1="65.25" x2="49.80" y2="74.25" stroke="#555" stroke-width="0.5" /><rect x="27.40" y="60.70" width="7.20" height="24.60" fill="url(#hA3)" stroke="#1e1e1e" stroke-width="1.1" /><rect x="64.60" y="54.50" width="18.00" height="19.20" fill="#fff" stroke="#1e1e1e" stroke-width="1.3" /><rect x="65.80" y="54.50" width="1.40" height="19.20" fill="#333" stroke="#1e1e1e" stroke-width="0" /><rect x="80.00" y="54.50" width="1.40" height="19.20" fill="#333" stroke="#1e1e1e" stroke-width="0" /><circle cx="73.60" cy="62.80" r="4.60" fill="none" stroke="#1e1e1e" stroke-width="1.3" /><circle cx="73.60" cy="62.80" r="2.20" fill="none" stroke="#1e1e1e" stroke-width="1.1" /><path d="M68.6,57.3 Q76.6,54.8 79.6,57.8" fill="none" stroke="#1e1e1e" stroke-width="0.8" /><circle cx="68.10" cy="71.60" r="1.10" fill="none" stroke="#1e1e1e" stroke-width="0.7" /><circle cx="68.10" cy="56.40" r="1.10" fill="none" stroke="#1e1e1e" stroke-width="0.7" /><circle cx="71.60" cy="71.60" r="1.10" fill="none" stroke="#1e1e1e" stroke-width="0.7" /><circle cx="71.60" cy="56.40" r="1.10" fill="none" stroke="#1e1e1e" stroke-width="0.7" /><circle cx="75.60" cy="71.60" r="1.10" fill="none" stroke="#1e1e1e" stroke-width="0.7" /><circle cx="75.60" cy="56.40" r="1.10" fill="none" stroke="#1e1e1e" stroke-width="0.7" /><circle cx="79.10" cy="71.60" r="1.10" fill="none" stroke="#1e1e1e" stroke-width="0.7" /><circle cx="79.10" cy="56.40" r="1.10" fill="none" stroke="#1e1e1e" stroke-width="0.7" /><rect x="69.40" y="90.60" width="11.80" height="20.20" fill="#fff" stroke="#1e1e1e" stroke-width="1.5" /><rect x="41.20" y="94.60" width="28.20" height="12.00" fill="#fff" stroke="#1e1e1e" stroke-width="1.2" /><line x1="67.60" y1="106.00" x2="67.60" y2="95.20" stroke="#1e1e1e" stroke-width="0.8" /><rect x="37.90" y="94.60" width="3.30" height="12.00" fill="#999" stroke="#1e1e1e" stroke-width="1.1" /><polygon points="37.90,106.60 31.50,100.60 37.90,94.60" fill="#fff" stroke="#1e1e1e" stroke-width="1.1" /><path d="M76.00,95.80 Q71.80,100.60 76.00,105.40" fill="none" stroke="#444" stroke-width="0.7" /><line x1="80.40" y1="96.40" x2="75.50" y2="96.40" stroke="#555" stroke-width="0.6" /><line x1="80.40" y1="98.60" x2="75.50" y2="98.60" stroke="#555" stroke-width="0.6" /><line x1="80.40" y1="102.60" x2="75.50" y2="102.60" stroke="#555" stroke-width="0.6" /><line x1="80.40" y1="104.80" x2="75.50" y2="104.80" stroke="#555" stroke-width="0.6" /><line x1="90.00" y1="100.60" x2="28.00" y2="100.60" stroke="#1e1e1e" stroke-width="0.55" stroke="#555" stroke-dasharray="12 2 2 2"/><rect x="-27.40" y="60.70" width="54.80" height="24.60" fill="#fff" stroke="#1e1e1e" stroke-width="1.2" /><line x1="-25.00" y1="83.00" x2="25.00" y2="63.00" stroke="#1e1e1e" stroke-width="0.6" stroke="#555" stroke-dasharray="5 3"/><line x1="-25.00" y1="63.00" x2="25.00" y2="83.00" stroke="#1e1e1e" stroke-width="0.6" stroke="#555" stroke-dasharray="5 3"/><polygon points="-82.60,73.70 -64.60,73.70 -64.60,85.30 -58.30,85.30 -58.30,165.80 -82.60,165.80" fill="url(#hB)" stroke="#1e1e1e" stroke-width="1.3" /><rect x="-82.60" y="199.90" width="24.30" height="17.30" fill="url(#hB)" stroke="#1e1e1e" stroke-width="1.3" /><rect x="-81.20" y="90.60" width="11.80" height="20.20" fill="#fff" stroke="#1e1e1e" stroke-width="1.5" /><rect x="-69.40" y="94.60" width="28.20" height="12.00" fill="#fff" stroke="#1e1e1e" stroke-width="1.2" /><line x1="-67.60" y1="106.00" x2="-67.60" y2="95.20" stroke="#1e1e1e" stroke-width="0.8" /><rect x="-41.20" y="94.60" width="3.30" height="12.00" fill="#999" stroke="#1e1e1e" stroke-width="1.1" /><polygon points="-37.90,106.60 -31.50,100.60 -37.90,94.60" fill="#fff" stroke="#1e1e1e" stroke-width="1.1" /><path d="M-76.00,95.80 Q-71.80,100.60 -76.00,105.40" fill="none" stroke="#444" stroke-width="0.7" /><line x1="-80.40" y1="96.40" x2="-75.50" y2="96.40" stroke="#555" stroke-width="0.6" /><line x1="-80.40" y1="98.60" x2="-75.50" y2="98.60" stroke="#555" stroke-width="0.6" /><line x1="-80.40" y1="102.60" x2="-75.50" y2="102.60" stroke="#555" stroke-width="0.6" /><line x1="-80.40" y1="104.80" x2="-75.50" y2="104.80" stroke="#555" stroke-width="0.6" /><line x1="-90.00" y1="100.60" x2="-28.00" y2="100.60" stroke="#1e1e1e" stroke-width="0.55" stroke="#555" stroke-dasharray="12 2 2 2"/><line x1="-58.30" y1="116.00" x2="-58.30" y2="165.80" stroke="#1e1e1e" stroke-width="1.3" /></g><rect x="155.00" y="727.00" width="158.80" height="43.70" fill="#fff" stroke="#1e1e1e" stroke-width="1.2" /><line x1="158.00" y1="727.00" x2="158.00" y2="770.70" stroke="#1e1e1e" stroke-width="1.0" /><line x1="311.50" y1="727.00" x2="311.50" y2="770.70" stroke="#1e1e1e" stroke-width="1.0" /><line x1="126.00" y1="748.40" x2="333.00" y2="748.40" stroke="#1e1e1e" stroke-width="0.7" stroke="#444" stroke-dasharray="13 3 2 3"/><line x1="155.25" y1="615.00" x2="155.25" y2="699.00" stroke="#2a2a2a" stroke-width="0.7" /><line x1="313.50" y1="615.00" x2="313.50" y2="699.00" stroke="#2a2a2a" stroke-width="0.7" /><line x1="160.25" y1="626.00" x2="160.25" y2="645.00" stroke="#2a2a2a" stroke-width="0.7" /><line x1="308.50" y1="626.00" x2="308.50" y2="645.00" stroke="#2a2a2a" stroke-width="0.7" /><line x1="234.38" y1="618.40" x2="155.25" y2="618.40" stroke="#2a2a2a" stroke-width="0.7" marker-end="url(#ar)"/><line x1="234.38" y1="618.40" x2="313.50" y2="618.40" stroke="#2a2a2a" stroke-width="0.7" marker-end="url(#ar)"/><line x1="234.38" y1="634.40" x2="160.25" y2="634.40" stroke="#2a2a2a" stroke-width="0.7" marker-end="url(#ar)"/><line x1="234.38" y1="634.40" x2="308.50" y2="634.40" stroke="#2a2a2a" stroke-width="0.7" marker-end="url(#ar)"/><text x="233" y="615.8" font-family="Liberation Serif" font-size="11.5" text-anchor="middle" fill="#1a1a1a">C</text><text x="233.5" y="633" font-family="Liberation Serif" font-size="11.5" text-anchor="middle" fill="#1a1a1a">B</text><line x1="309.00" y1="644.40" x2="376.00" y2="644.40" stroke="#2a2a2a" stroke-width="0.7" /><line x1="310.00" y1="852.50" x2="376.00" y2="852.50" stroke="#2a2a2a" stroke-width="0.7" /><line x1="372.30" y1="748.00" x2="372.30" y2="644.40" stroke="#2a2a2a" stroke-width="0.7" marker-end="url(#ar)"/><line x1="372.30" y1="748.00" x2="372.30" y2="852.50" stroke="#2a2a2a" stroke-width="0.7" marker-end="url(#ar)"/><line x1="314.00" y1="726.60" x2="355.00" y2="726.60" stroke="#2a2a2a" stroke-width="0.7" /><line x1="314.00" y1="770.70" x2="355.00" y2="770.70" stroke="#2a2a2a" stroke-width="0.7" /><line x1="351.00" y1="748.00" x2="351.00" y2="726.60" stroke="#2a2a2a" stroke-width="0.7" marker-end="url(#ar)"/><line x1="351.00" y1="748.00" x2="351.00" y2="770.70" stroke="#2a2a2a" stroke-width="0.7" marker-end="url(#ar)"/><text transform="translate(368.3,747.5) rotate(-90)" font-family="Liberation Serif" font-size="11.5" text-anchor="middle" fill="#1a1a1a">D</text><text transform="translate(344.5,748) rotate(-90)" font-family="Liberation Serif" font-size="11.5" text-anchor="middle" fill="#1a1a1a">d</text><rect x="182.40" y="897.40" width="25.60" height="30.60" fill="#fff" stroke="#1e1e1e" stroke-width="1.3" /><line x1="187.40" y1="897.40" x2="187.40" y2="928.00" stroke="#1e1e1e" stroke-width="1.1" /><path d="M208,897.4 Q210.5,899.5 210.5,903 L210.5,922.5 Q210.5,926 208,928" fill="none" stroke="#1e1e1e" stroke-width="1.0" /><path d="M160.6,897.4 L115,897.4 Q112,898.5 112,902 L112,923.5 Q112,927 115,928 L160.6,928" fill="none" stroke="#666" stroke-width="0.7" stroke-dasharray="7 2 2 2"/><line x1="134.00" y1="897.40" x2="134.00" y2="928.00" stroke="#666" stroke-width="0.7" stroke-dasharray="4 2"/><line x1="117.00" y1="899.00" x2="117.00" y2="926.00" stroke="#888" stroke-width="0.6" stroke-dasharray="3 2"/><line x1="101.00" y1="912.60" x2="250.00" y2="912.60" stroke="#1e1e1e" stroke-width="0.7" stroke="#444" stroke-dasharray="13 3 2 3"/><line x1="211.00" y1="897.40" x2="242.00" y2="897.40" stroke="#2a2a2a" stroke-width="0.7" /><line x1="211.00" y1="928.00" x2="242.00" y2="928.00" stroke="#2a2a2a" stroke-width="0.7" /><line x1="237.40" y1="912.60" x2="237.40" y2="897.40" stroke="#2a2a2a" stroke-width="0.7" marker-end="url(#ar)"/><line x1="237.40" y1="912.60" x2="237.40" y2="928.00" stroke="#2a2a2a" stroke-width="0.7" marker-end="url(#ar)"/><text transform="translate(231,912) rotate(-90)" font-family="Liberation Serif" font-size="11.5" text-anchor="middle" fill="#1a1a1a">d<tspan font-size="7" dy="2.5">1</tspan></text><line x1="160.60" y1="943.60" x2="160.60" y2="975.00" stroke="#1e1e1e" stroke-width="1.0" /><line x1="182.40" y1="943.60" x2="182.40" y2="975.00" stroke="#1e1e1e" stroke-width="1.0" /><line x1="209.40" y1="929.00" x2="209.40" y2="975.00" stroke="#2a2a2a" stroke-width="0.7" /><line x1="160.60" y1="971.00" x2="209.40" y2="971.00" stroke="#2a2a2a" stroke-width="0.7" /><text x="167" y="965" font-family="Liberation Serif" font-size="11.5" fill="#1a1a1a">L<tspan font-size="7" dy="2">2</tspan></text><text x="192" y="965" font-family="Liberation Serif" font-size="11.5" fill="#1a1a1a">L<tspan font-size="7" dy="2">1</tspan></text><line x1="401.70" y1="644.40" x2="547.00" y2="644.40" stroke="#2a2a2a" stroke-width="0.7" /><line x1="404.00" y1="942.50" x2="547.00" y2="942.50" stroke="#2a2a2a" stroke-width="0.7" /><line x1="407.40" y1="790.00" x2="407.40" y2="644.40" stroke="#2a2a2a" stroke-width="0.7" marker-end="url(#ar)"/><line x1="407.40" y1="790.00" x2="407.40" y2="942.50" stroke="#2a2a2a" stroke-width="0.7" marker-end="url(#ar)"/><text transform="translate(401.5,801) rotate(-90)" font-family="Liberation Serif" font-size="11.5" text-anchor="middle" fill="#1a1a1a">H</text><line x1="430.40" y1="748.20" x2="547.00" y2="748.20" stroke="#1e1e1e" stroke-width="0.7" stroke="#444" stroke-dasharray="13 3 2 3"/><line x1="424.40" y1="912.30" x2="589.00" y2="912.30" stroke="#1e1e1e" stroke-width="0.7" stroke="#444" stroke-dasharray="13 3 2 3"/><line x1="433.60" y1="830.00" x2="433.60" y2="748.20" stroke="#2a2a2a" stroke-width="0.7" marker-end="url(#ar)"/><line x1="433.60" y1="830.00" x2="433.60" y2="912.30" stroke="#2a2a2a" stroke-width="0.7" marker-end="url(#ar)"/><text transform="translate(427,830) rotate(-90)" font-family="Liberation Serif" font-size="11.5" text-anchor="middle" fill="#1a1a1a">E</text><path d="M474.7,822.2 A103.6,103.6 0 1 1 619.7,822.2 L574.9000000000001,924.4 A30.2,30.2 0 0 1 519.5,924.4 Z" fill="#fff" stroke="#1e1e1e" stroke-width="1.4" /><circle cx="547.20" cy="748.20" r="90.00" fill="none" stroke="#444" stroke-width="0.7" stroke-dasharray="6 3"/><circle cx="547.20" cy="748.20" r="65.40" fill="none" stroke="#1e1e1e" stroke-width="1.4" /><circle cx="547.20" cy="748.20" r="54.80" fill="none" stroke="#1e1e1e" stroke-width="1.4" /><circle cx="547.20" cy="748.20" r="49.50" fill="none" stroke="#1e1e1e" stroke-width="1.4" /><path d="M568.5,741.5 L575,741.5 L575,754.5 L568.5,754.5" fill="none" stroke="#1e1e1e" stroke-width="1.2" /><line x1="568.30" y1="741.50" x2="568.30" y2="754.50" stroke="#1e1e1e" stroke-width="0.8" /><path d="M568.5,741.5 A21.7,21.7 0 1 0 568.5,754.5" fill="none" stroke="#1e1e1e" stroke-width="1.4" /><circle cx="547.20" cy="912.30" r="15.30" fill="none" stroke="#1e1e1e" stroke-width="1.1" /><line x1="547.20" y1="634.00" x2="547.20" y2="945.00" stroke="#1e1e1e" stroke-width="0.7" stroke="#444" stroke-dasharray="13 3 2 3"/><line x1="436.00" y1="748.20" x2="672.00" y2="748.20" stroke="#1e1e1e" stroke-width="0.7" stroke="#444" stroke-dasharray="13 3 2 3"/><circle cx="637.20" cy="748.20" r="8.60" fill="#fff" stroke="#1e1e1e" stroke-width="2.0" /><circle cx="637.20" cy="748.20" r="4.80" fill="none" stroke="#1e1e1e" stroke-width="1.6" /><line x1="634.20" y1="748.20" x2="640.20" y2="748.20" stroke="#555" stroke-width="0.5" /><circle cx="610.84" cy="811.84" r="8.60" fill="#fff" stroke="#1e1e1e" stroke-width="2.0" /><circle cx="610.84" cy="811.84" r="4.80" fill="none" stroke="#1e1e1e" stroke-width="1.6" /><line x1="608.72" y1="809.72" x2="612.96" y2="813.96" stroke="#555" stroke-width="0.5" /><circle cx="547.20" cy="838.20" r="8.60" fill="#fff" stroke="#1e1e1e" stroke-width="2.0" /><circle cx="547.20" cy="838.20" r="4.80" fill="none" stroke="#1e1e1e" stroke-width="1.6" /><line x1="547.20" y1="835.20" x2="547.20" y2="841.20" stroke="#555" stroke-width="0.5" /><circle cx="483.56" cy="811.84" r="8.60" fill="#fff" stroke="#1e1e1e" stroke-width="2.0" /><circle cx="483.56" cy="811.84" r="4.80" fill="none" stroke="#1e1e1e" stroke-width="1.6" /><line x1="485.68" y1="809.72" x2="481.44" y2="813.96" stroke="#555" stroke-width="0.5" /><circle cx="457.20" cy="748.20" r="8.60" fill="#fff" stroke="#1e1e1e" stroke-width="2.0" /><circle cx="457.20" cy="748.20" r="4.80" fill="none" stroke="#1e1e1e" stroke-width="1.6" /><line x1="460.20" y1="748.20" x2="454.20" y2="748.20" stroke="#555" stroke-width="0.5" /><circle cx="483.56" cy="684.56" r="8.60" fill="#fff" stroke="#1e1e1e" stroke-width="2.0" /><circle cx="483.56" cy="684.56" r="4.80" fill="none" stroke="#1e1e1e" stroke-width="1.6" /><line x1="485.68" y1="686.68" x2="481.44" y2="682.44" stroke="#555" stroke-width="0.5" /><circle cx="547.20" cy="658.20" r="8.60" fill="#fff" stroke="#1e1e1e" stroke-width="2.0" /><circle cx="547.20" cy="658.20" r="4.80" fill="none" stroke="#1e1e1e" stroke-width="1.6" /><line x1="547.20" y1="661.20" x2="547.20" y2="655.20" stroke="#555" stroke-width="0.5" /><circle cx="610.84" cy="684.56" r="8.60" fill="#fff" stroke="#1e1e1e" stroke-width="2.0" /><circle cx="610.84" cy="684.56" r="4.80" fill="none" stroke="#1e1e1e" stroke-width="1.6" /><line x1="608.72" y1="686.68" x2="612.96" y2="682.44" stroke="#555" stroke-width="0.5" /><line x1="477.90" y1="678.90" x2="465.88" y2="666.88" stroke="#1e1e1e" stroke-width="0.6" /><line x1="616.50" y1="678.90" x2="628.52" y2="666.88" stroke="#1e1e1e" stroke-width="0.6" /><line x1="575.00" y1="741.50" x2="586.00" y2="741.50" stroke="#2a2a2a" stroke-width="0.6" /><line x1="575.00" y1="754.50" x2="586.00" y2="754.50" stroke="#2a2a2a" stroke-width="0.6" /><line x1="568.50" y1="754.50" x2="568.50" y2="779.00" stroke="#2a2a2a" stroke-width="0.6" /><line x1="575.00" y1="754.50" x2="575.00" y2="779.00" stroke="#2a2a2a" stroke-width="0.6" /><line x1="581.50" y1="721.00" x2="581.50" y2="741.50" stroke="#2a2a2a" stroke-width="0.6" marker-end="url(#ars)"/><line x1="581.50" y1="768.00" x2="581.50" y2="754.50" stroke="#2a2a2a" stroke-width="0.6" marker-end="url(#ars)"/><line x1="550.50" y1="775.00" x2="568.50" y2="775.00" stroke="#2a2a2a" stroke-width="0.6" marker-end="url(#ars)"/><line x1="591.00" y1="775.00" x2="575.00" y2="775.00" stroke="#2a2a2a" stroke-width="0.6" marker-end="url(#ars)"/><text transform="translate(577,726.5) rotate(-90)" font-family="Liberation Sans" font-size="10.5" text-anchor="middle" fill="#1a1a1a">b<tspan font-size="5.5" dy="-0.5">s</tspan></text><text x="561.5" y="785" font-family="Liberation Sans" font-size="10" fill="#1a1a1a">t<tspan font-size="5.5" dy="3">n</tspan></text></svg>
<div class="h" style="left:0;top:0.5px;font-size:14.6px;letter-spacing:1.6px;-webkit-text-stroke:0.45px #2a2470">特性及应用：</div>
<div class="t" style="left:35px;top:28.5px">CKN系列为楔块式单向离合器，内含轴承支撑及油封。</div>
<div class="t" style="left:35px;top:55.3px">传递扭矩的端盖和安装在其上的止动销应与工作机壁上的孔连为一体，止动销与孔的配合间隙为止动销直径的</div>
<div class="t" style="left:0;top:82.3px">1%。端盖为组装式的，用户可自行选择旋转方向。</div>
<div class="t" style="left:35px;top:109.5px">主要适用于中、低速防止逆转，如皮带输送机及斗式提升机等。</div>
<div class="h" style="left:69.5px;top:153.5px;font-size:18.6px;letter-spacing:3px;-webkit-text-stroke:0.35px #2a2470">安装参考范例</div>
<div class="h" style="left:410px;top:152px;font-size:20px;letter-spacing:0.1px;transform:scaleX(1.115);transform-origin:0 0;-webkit-text-stroke:0.4px #2a2470">Mounting example</div>
<div class="h" style="left:473.5px;top:452.5px;font-size:14.6px;letter-spacing:1.6px;-webkit-text-stroke:0.3px #2a2470">安装要求：</div>
<div class="t" style="left:502px;top:476px;letter-spacing:0.2px">拐臂轴与配合孔要留有间隙。</div>
</body></html>
